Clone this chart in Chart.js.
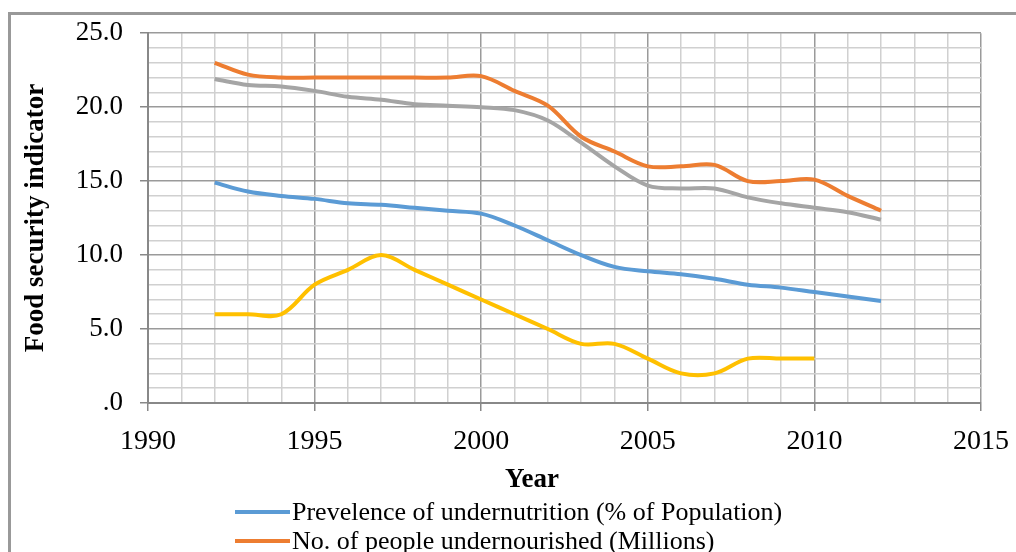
<!DOCTYPE html>
<html>
<head>
<meta charset="utf-8">
<script src="https://cdn.jsdelivr.net/npm/chart.js@4/dist/chart.umd.min.js"></script>
<style>
  html, body { margin: 0; padding: 0; background: #fff; overflow: hidden; }
  #wrap { position: relative; width: 1016px; height: 552px; }
  #frame { position: absolute; left: 8px; top: 12px; width: 1100px; height: 700px;
           border-left: 3px solid #999; border-top: 3px solid #999; }
  #chart { position: absolute; left: 0; top: 0; }
  .leg { position: absolute; left: 235px; font: 26px "Liberation Serif", "Times New Roman", serif;
         color: #000; white-space: nowrap; line-height: 29px; }
  .leg span.swatch { display: inline-block; width: 55px; height: 4px; vertical-align: middle;
                     margin-right: 2px; position: relative; top: -2px; }
  #xtitle { position: absolute; left: 432px; width: 200px; top: 462px; text-align: center;
            font: bold 27px "Liberation Serif", "Times New Roman", serif; color: #000; line-height: 32px; }
</style>
</head>
<body>
<div id="wrap">
  <div id="frame"></div>
  <canvas id="chart" width="1016" height="552"></canvas>
  <div id="xtitle">Year</div>
  <div class="leg" id="leg1" style="top:497px"></div>
  <div class="leg" id="leg2" style="top:526px"></div>
</div>
<script>
// === Data ===
const years = [1992, 1993, 1994, 1995, 1996, 1997, 1998, 1999, 2000, 2001, 2002,
               2003, 2004, 2005, 2006, 2007, 2008, 2009, 2010, 2011, 2012];
const prevalence = [14.9, 14.3, 14.0, 13.8, 13.5, 13.4, 13.2, 13.0, 12.8, 12.0, 11.0,
                    10.0, 9.2, 8.9, 8.7, 8.4, 8.0, 7.8, 7.5, 7.2, 6.9];
const undernourished = [23.0, 22.2, 22.0, 22.0, 22.0, 22.0, 22.0, 22.0, 22.1, 21.1, 20.1,
                        18.0, 17.0, 16.0, 16.0, 16.1, 15.0, 15.0, 15.1, 14.0, 13.0];
const grayValues = [21.9, 21.5, 21.4, 21.1, 20.7, 20.5, 20.2, 20.1, 20.0, 19.8, 19.1,
                    17.6, 16.0, 14.7, 14.5, 14.5, 13.9, 13.5, 13.2, 12.9, 12.4];
const yellowValues = [6, 6, 6, 8, 9, 10, 9, 8, 7, 6, 5,
                      4, 4, 3, 2, 2, 3, 3, 3];
const legendLabels = ["Prevelence of undernutrition (% of Population)",
                      "No. of people undernourished (Millions)"];
const colors = ["#5B9BD5", "#ED7D31", "#A5A5A5", "#FFC000"];

const toPoints = vals => vals.map((v, i) => ({ x: years[i], y: v }));

// === Legend (only two entries visible in the original) ===
["leg1", "leg2"].forEach((id, i) => {
  document.getElementById(id).innerHTML =
    `<span class="swatch" style="background:${colors[i]}"></span>${legendLabels[i]}`;
});

const serif = "'Liberation Serif', 'Times New Roman', serif";
const majorGrid = "#9a9a9a";
const minorGrid = "#d0d0d0";
const isMajor = ctx => ctx.tick && Math.round(ctx.tick.value) % 5 === 0;

const series = [prevalence, undernourished, grayValues, yellowValues];

new Chart(document.getElementById("chart").getContext("2d"), {
  type: "line",
  data: {
    datasets: series.map((vals, i) => ({
      label: i < 2 ? legendLabels[i] : "",
      data: toPoints(vals),
      borderColor: colors[i],
      backgroundColor: colors[i],
      borderWidth: 4,
      pointRadius: 0,
      tension: 0.35,
      fill: false
    }))
  },
  options: {
    responsive: false,
    animation: false,
    layout: { padding: { left: 0, top: 33, right: 35, bottom: 56 } },
    plugins: { legend: { display: false }, tooltip: { enabled: false } },
    scales: {
      x: {
        type: "linear",
        min: 1990,
        max: 2015,
        afterFit: s => { s.height = 93; s.paddingRight = 0; s.paddingLeft = 0; },
        ticks: {
          stepSize: 1,
          autoSkip: false,
          maxRotation: 0,
          padding: 14,
          color: "#000",
          font: { family: serif, size: 28 },
          callback: v => (v % 5 === 0 ? String(v) : "")
        },
        grid: {
          color: ctx => (isMajor(ctx) ? majorGrid : minorGrid),
          lineWidth: 1.5,
          tickLength: 8,
          tickColor: ctx => (isMajor(ctx) ? "#888" : "rgba(0,0,0,0)")
        },
        border: { color: "#888", width: 2 }
      },
      y: {
        min: 0,
        max: 25,
        afterFit: s => { s.width = 148; },
        ticks: {
          stepSize: 1,
          autoSkip: false,
          padding: 17,
          color: "#000",
          font: { family: serif, size: 27 },
          callback: v => (v % 5 !== 0 ? "" : v === 0 ? ".0" : v.toFixed(1))
        },
        grid: {
          color: ctx => (isMajor(ctx) ? majorGrid : minorGrid),
          lineWidth: 1.5,
          tickLength: 8,
          tickColor: ctx => (isMajor(ctx) ? "#888" : "rgba(0,0,0,0)")
        },
        border: { color: "#888", width: 2 },
        title: {
          display: true,
          text: "Food security indicator",
          color: "#000",
          font: { family: serif, size: 27, weight: "bold" },
          padding: { top: 20, bottom: 0 }
        }
      }
    }
  }
});
</script>
</body>
</html>
